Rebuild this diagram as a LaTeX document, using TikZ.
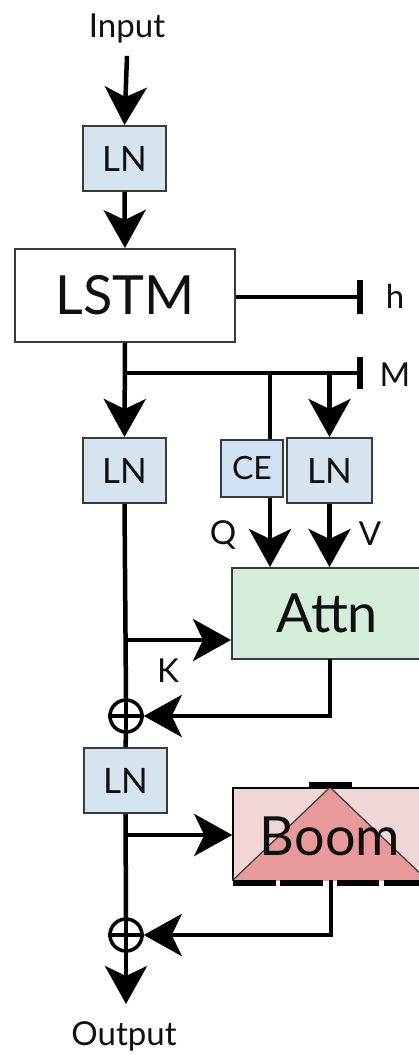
\documentclass[tikz,border=0pt]{standalone}
\usepackage{fontspec}
\setmainfont{Lato}
\usetikzlibrary{arrows.meta}
\definecolor{lnblue}{HTML}{D6E4F0}
\definecolor{ceblue}{HTML}{CFE1F3}
\definecolor{attngreen}{HTML}{D5EEDC}
\definecolor{boombg}{HTML}{F0D6D6}
\definecolor{boomtri}{HTML}{E89A9A}
\definecolor{boxline}{HTML}{3A3A3A}
\definecolor{txt}{HTML}{101010}
\begin{document}
\begin{tikzpicture}[x=1pt,y=-1pt,
  wire/.style={line width=4.5pt, black},
  arr/.style={wire,-{Stealth[length=38pt,width=42pt,inset=10pt]}},
  lnbox/.style={draw=boxline, line width=2pt, fill=lnblue, minimum width=83pt, minimum height=65pt, inner sep=0pt, text=txt, font=\fontsize{35}{35}\selectfont},
  bigbox/.style={draw=boxline, line width=2pt, inner sep=0pt, text=txt, font=\fontsize{54}{54}\selectfont},
  lbl/.style={text=txt, inner sep=0pt, font=\fontsize{33}{33}\selectfont},
  tbar/.style={line width=6pt, black},
  oplus/.style={circle, draw=black, line width=3.5pt, minimum size=32pt, inner sep=0pt}]
\useasboundingbox (0,0) rectangle (419,1055);
\clip (0,0) rectangle (419,1055);
\fill[white] (0,0) rectangle (419,1055);

% nodes
\node[lbl] (inp) at (127,29) {Input};
\node[lnbox] (ln1) at (124.5,158.5) {LN};
\node[bigbox, fill=white, minimum width=220pt, minimum height=93pt] (lstm) at (125,295.5) {LSTM};
\node[lbl] (hl) at (395,296) {h};
\node[lbl] (ml) at (395,375) {M};
\node[lnbox] (ln2) at (124.5,470.5) {LN};
\node[lnbox, fill=ceblue, minimum width=62pt, minimum height=57pt, font=\fontsize{32}{32}\selectfont] (ce) at (252,468.5) {CE};
\node[lnbox, minimum width=85pt] (ln3) at (329.5,470.5) {LN};
\node[bigbox, fill=attngreen, minimum width=190pt, minimum height=91pt] (attn) at (327,613.5) {Attn};
\node[lbl] (ql) at (223,535) {Q};
\node[lbl] (vl) at (370,534) {V};
\node[lbl] (kl) at (168,671) {K};
\node[oplus] (plus1) at (126,716) {};
\node[lnbox] (ln4) at (125.5,780.5) {LN};
\node[draw=black, line width=1.5pt, fill=boombg, minimum width=194pt, minimum height=92pt, inner sep=0pt] (boom) at (330,834) {};
\node[oplus] (plus2) at (126,935) {};
\node[lbl] (outl) at (124,1036) {Output};

% Boom decoration
\fill[boomtri] (boom.south west) -- (boom.north) -- (boom.south east) -- cycle;
\draw[boxline, line width=1.2pt] (boom.south west) -- (boom.north) -- (boom.south east);
\draw[tbar] (309,785) -- (352,785);
\foreach \a/\b in {233/276, 280/323, 337/379, 384/427}
  \draw[tbar] (\a,883) -- (\b,883);
\node[text=txt, inner sep=0pt, font=\fontsize{54}{54}\selectfont] (boomtext) at (330,836) {Boom};

% coordinates
\coordinate (hend) at (360,297);
\coordinate (br) at (126,373);
\coordinate (mend) at (360,373);
\coordinate (qx) at (270,373);
\coordinate (vx) at (329.5,373);
\coordinate (kpt) at (126,640);
\coordinate (bpt) at (126,835);
\coordinate (aout) at (330,659);
\coordinate (bout) at (331,880);
\coordinate (outtip) at (126,1004);

% connectors
\draw[arr] ([yshift=-12pt]inp.south) -- (ln1.north);
\draw[arr] (ln1.south) -- (lstm.north);
\draw[wire] (lstm.east |- hend) -- (hend);
\draw[tbar] ([yshift=17pt]hend) -- ([yshift=-17pt]hend);
\draw[arr] (lstm.south) -- (ln2.north);
\draw[wire] (br) -- (mend);
\draw[tbar] ([yshift=16pt]mend) -- ([yshift=-16pt]mend);
\draw[wire] (qx) -- (qx |- ce.north);
\draw[arr] (vx) -- (ln3.north);
\draw[arr] (qx |- ce.south) -- (qx |- attn.north);
\draw[arr] (ln3.south) -- (ln3.south |- attn.north);
\draw[wire] (ln2.south) -- (plus1.north);
\draw[arr] (kpt) -- (kpt -| attn.west);
\draw[arr] (aout) -- (aout |- plus1) -- (plus1.east);
\draw[wire] (plus1.north) -- (plus1.south) (plus1.west) -- (plus1.east);
\draw[wire] (plus1.south) -- (ln4.north);
\draw[wire] (ln4.south) -- (plus2.north);
\draw[arr] (bpt) -- (bpt -| boom.west);
\draw[arr] (bout) -- (bout |- plus2) -- (plus2.east);
\draw[wire] (plus2.north) -- (plus2.south) (plus2.west) -- (plus2.east);
\draw[arr] (plus2.south) -- (outtip);
\end{tikzpicture}
\end{document}
